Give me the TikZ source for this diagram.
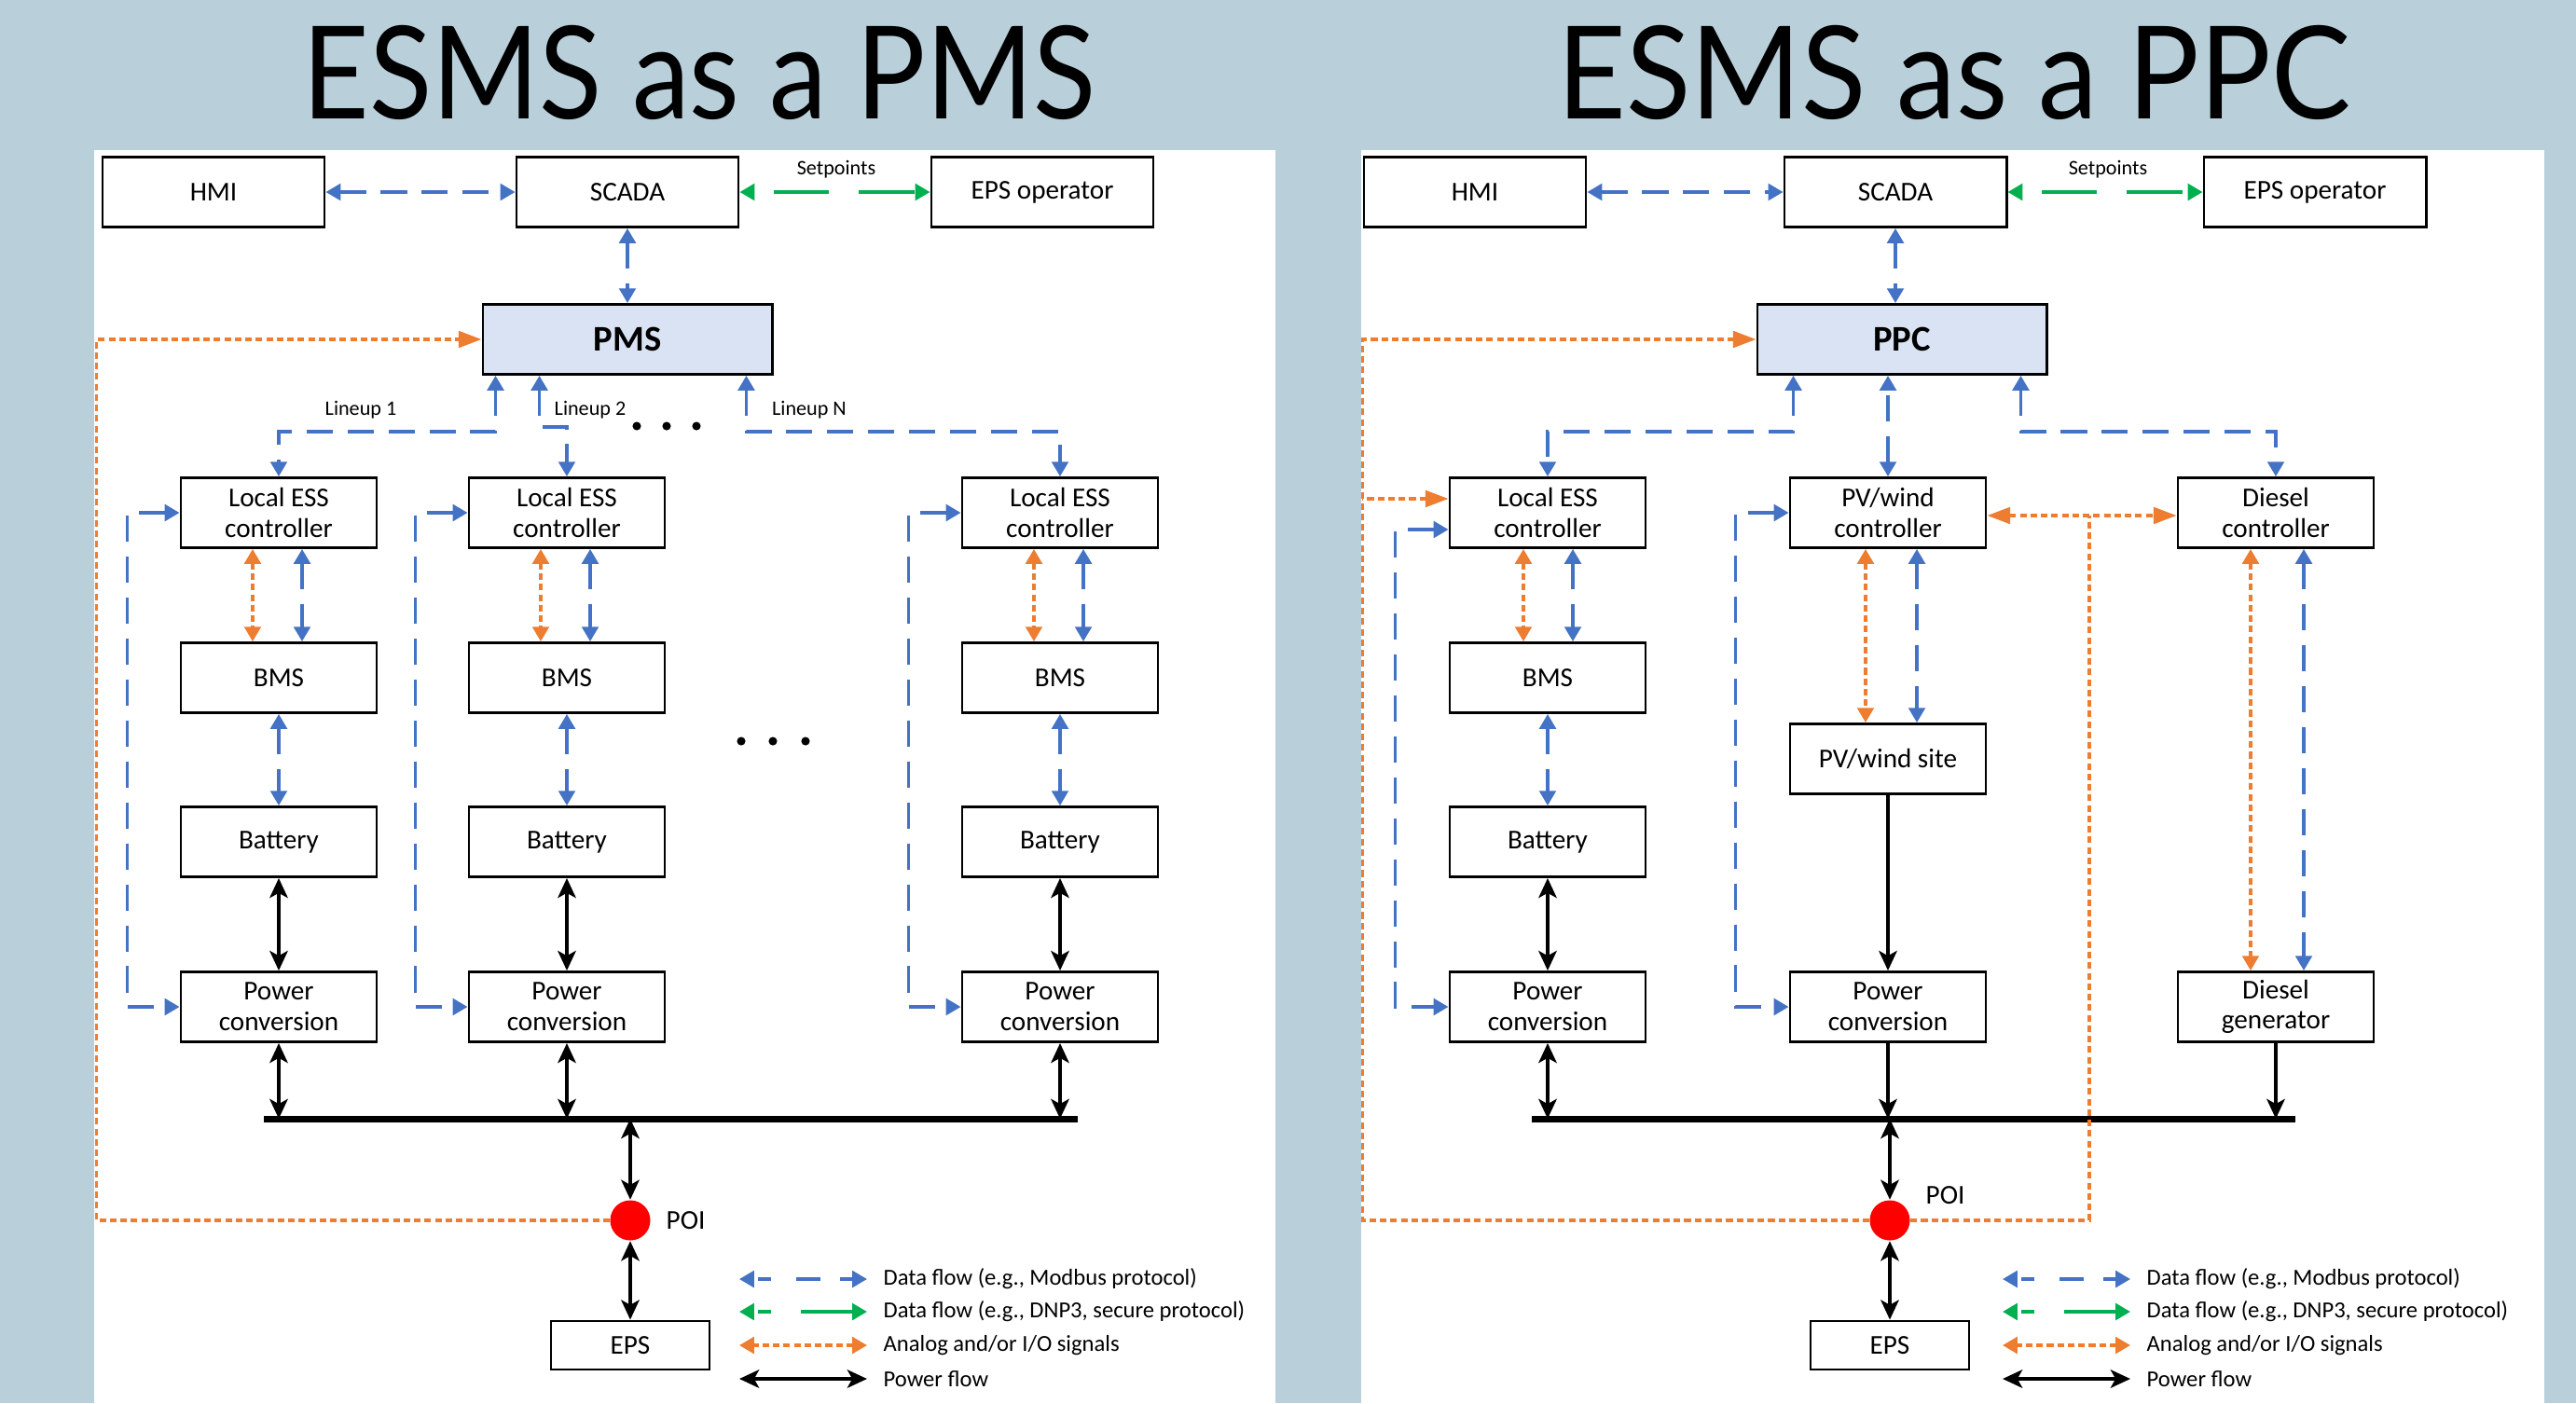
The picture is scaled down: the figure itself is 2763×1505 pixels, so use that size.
\documentclass[tikz,border=0pt]{standalone}
\usepackage{fontspec}
\setmainfont{Carlito}
\newfontfamily\titlefont{Lato}
\usetikzlibrary{arrows.meta}

\definecolor{dblue}{RGB}{68,114,196}
\definecolor{dgreen}{RGB}{0,176,80}
\definecolor{dorange}{RGB}{237,125,49}
\definecolor{ctrlfill}{RGB}{218,227,243}
\definecolor{slide}{RGB}{185,207,218}

\tikzset{
  tri/.tip={Triangle[length=4.5pt,width=5pt]},
  wtri/.tip={Triangle[length=7pt,width=5pt]},
  pwr/.tip={Stealth[length=6pt,width=5.5pt,inset=1.5pt]},
  box/.style={draw, line width=0.8pt, fill=white, minimum width=2.1cm, minimum height=0.75cm,
    inner sep=1pt, align=center, font=\fontsize{8.3}{9.3}\selectfont},
  wide/.style={box, minimum width=2.38cm},
  ctrl/.style={box, minimum width=3.1cm, fill=ctrlfill, font=\fontsize{11}{12}\selectfont\bfseries},
  data/.style={dblue, line width=1pt, dash pattern=on 8pt off 4.5pt, tri-tri},
  secure/.style={dgreen, line width=1pt, dash pattern=on 17pt off 9pt, dash phase=20pt, tri-tri},
  signal/.style={dorange, line width=0.95pt, dash pattern=on 2pt off 1.2pt},
  power/.style={line width=1.3pt, pwr-pwr},
  bus/.style={line width=2pt},
  small/.style={font=\fontsize{6.3}{7}\selectfont, inner sep=0pt},
  legend/.style={font=\fontsize{7}{8}\selectfont, anchor=west, inner sep=0pt},
  poi/.style={circle, fill=red, minimum size=0.43cm, inner sep=0pt},
}

\begin{document}
\begin{tikzpicture}[x=0.01cm, y=-0.01cm]
  \useasboundingbox (0,0) rectangle (2763,1505);
  \fill[slide] (0,0) rectangle (2763,1505);
  \fill[white] (101,161) rectangle (1368,1505);
  \fill[white] (1460,161) rectangle (2729,1505);

  % titles
  \node[anchor=base, inner sep=0pt] (titleL) at (750,127) {\resizebox{242pt}{28.5pt}{\titlefont ESMS as a PMS}};
  \node[anchor=base, inner sep=0pt] (titleR) at (2096,127) {\resizebox{242pt}{28.5pt}{\titlefont ESMS as a PPC}};

  % ---------------- left: ESMS as a PMS ----------------
  \node[wide] (hmiL) at (229,206) {HMI};
  \node[wide] (scadaL) at (673,206) {SCADA};
  \node[wide] (epsopL) at (1118,206) {EPS operator};
  \node[ctrl] (pmsL) at (673,364) {PMS};
  \draw[data] (hmiL) -- (scadaL);
  \draw[secure] (scadaL) -- (epsopL);
  \node[small] (setL) at (897,182) {Setpoints};
  \draw[data] (scadaL) -- (pmsL);

  \coordinate (busLa) at (283,1200);
  \coordinate (busLb) at (1156,1200);
  \draw[bus] (busLa) -- (busLb);

  \foreach \i/\x in {1/299, 2/608, 3/1137} {
    \node[box] (less\i) at (\x,550) {Local ESS\\controller};
    \node[box] (bms\i) at (\x,727) {BMS};
    \node[box] (bat\i) at (\x,903) {Battery};
    \node[box] (pc\i) at (\x,1080) {Power\\conversion};
    \draw[signal, tri-tri] ([xshift=-0.28cm]less\i.south) -- ([xshift=-0.28cm]bms\i.north);
    \draw[data] ([xshift=0.25cm]less\i.south) -- ([xshift=0.25cm]bms\i.north);
    \draw[data] (bms\i) -- (bat\i);
    \draw[power] (bat\i) -- (pc\i);
    \draw[power] (pc\i.south) -- (pc\i.south |- busLa);
    \draw[data] (less\i.west) -- ++(-56,0) |- (pc\i.west);
  }

  % lineups
  \draw[data] ([xshift=0.15cm]pmsL.south west) -- ++(0,60) -| (less1.north);
  \draw[data] ([xshift=0.62cm]pmsL.south west) -- ++(0,55) -| (less2.north);
  \draw[data] ([xshift=-0.29cm]pmsL.south east) -- ++(0,60) -| (less3.north);
  \node[small] (lineup1) at (387,440) {Lineup 1};
  \node[small] (lineup2) at (633,440) {Lineup 2};
  \node[small] (lineupN) at (868,440) {Lineup N};
  \foreach \d in {683,715,747} \fill (\d,457) circle (1.3pt);
  \foreach \d in {795,829,864} \fill (\d,795) circle (1.3pt);

  \node[poi] (poiL) at (676,1309) {};
  \node[font=\fontsize{8.3}{9.3}\selectfont, anchor=west, inner sep=0pt] (poiLlab) at (714,1309) {POI};
  \node[box, minimum width=1.7cm, minimum height=0.52cm] (epsL) at (676,1443) {EPS};
  \draw[power] (poiL.north |- busLa) -- (poiL.north);
  \draw[power] (poiL.south) -- (epsL.north);
  \draw[signal, -wtri] (poiL.west) -- ++(-550,0) |- (pmsL.west);

  % ---------------- right: ESMS as a PPC ----------------
  \node[wide] (hmiR) at (1582,206) {HMI};
  \node[wide] (scadaR) at (2033,206) {SCADA};
  \node[wide] (epsopR) at (2483,206) {EPS operator};
  \node[ctrl] (ppcR) at (2040,364) {PPC};
  \draw[data] (hmiR) -- (scadaR);
  \draw[secure] (scadaR) -- (epsopR);
  \node[small] (setR) at (2261,182) {Setpoints};
  \draw[data] (scadaR) -- (scadaR |- ppcR.north);

  \node[box] (lessR) at (1660,550) {Local ESS\\controller};
  \node[box] (bmsR) at (1660,727) {BMS};
  \node[box] (batR) at (1660,903) {Battery};
  \node[box] (pcR) at (1660,1080) {Power\\conversion};
  \node[box] (pvc) at (2025,550) {PV/wind\\controller};
  \node[box] (pvs) at (2025,814) {PV/wind site};
  \node[box] (pvpc) at (2025,1080) {Power\\conversion};
  \node[box] (dc) at (2441,550) {Diesel\\controller};
  \node[box] (dg) at (2441,1080) {Diesel\\generator};

  \draw[data] ([xshift=0.40cm]ppcR.south west) -- ++(0,60) -| (lessR.north);
  \draw[data] (pvc.north) -- (pvc.north |- ppcR.south);
  \draw[data] ([xshift=-0.29cm]ppcR.south east) -- ++(0,60) -| (dc.north);

  \draw[signal, tri-tri] ([xshift=-0.26cm]lessR.south) -- ([xshift=-0.26cm]bmsR.north);
  \draw[data] ([xshift=0.27cm]lessR.south) -- ([xshift=0.27cm]bmsR.north);
  \draw[data] (bmsR) -- (batR);
  \draw[power] (batR) -- (pcR);
  \draw[data] ([yshift=-0.18cm]lessR.west) -- ++(-57,0) |- (pcR.west);

  \draw[signal, tri-tri] ([xshift=-0.24cm]pvc.south) -- ([xshift=-0.24cm]pvs.north);
  \draw[data] ([xshift=0.31cm]pvc.south) -- ([xshift=0.31cm]pvs.north);
  \draw[line width=1.3pt, -pwr] (pvs) -- (pvpc);
  \draw[data] (pvc.west) -- ++(-57,0) |- (pvpc.west);

  \draw[signal, tri-tri] ([xshift=-0.27cm]dc.south) -- ([xshift=-0.27cm]dg.north);
  \draw[data] ([xshift=0.30cm]dc.south) -- ([xshift=0.30cm]dg.north);
  \draw[signal, wtri-wtri] ([yshift=-0.03cm]pvc.east) -- ([yshift=-0.03cm]dc.west);

  \coordinate (busRa) at (1643,1200);
  \coordinate (busRb) at (2462,1200);
  \draw[bus] (busRa) -- (busRb);
  \draw[power] (pcR.south) -- (pcR.south |- busRa);
  \draw[line width=1.3pt, -pwr] (pvpc.south) -- (pvpc.south |- busRa);
  \draw[line width=1.3pt, -pwr] (dg.south) -- (dg.south |- busRa);

  \node[poi] (poiR) at (2027,1309) {};
  \node[font=\fontsize{8.3}{9.3}\selectfont, anchor=west, inner sep=0pt] (poiRlab) at (2065,1282) {POI};
  \node[box, minimum width=1.7cm, minimum height=0.52cm] (epsR) at (2027,1443) {EPS};
  \draw[power] (poiR.north |- busRa) -- (poiR.north);
  \draw[power] (poiR.south) -- (epsR.north);
  \draw[signal, -wtri] (poiR.west) -- ++(-543,0) |- (ppcR.west);
  \draw[signal, wtri-] ([yshift=0.15cm]lessR.west) -- ++(-93,0);
  \coordinate (tap) at (2241,553);
  \draw[signal] (poiR.east) -| (tap);

  % legends
  \foreach \p/\x in {L/947, R/2302} {
    \node[legend] (lg\p1) at (\x,1372) {Data flow (e.g., Modbus protocol)};
    \node[legend] (lg\p2) at (\x,1407) {Data flow (e.g., DNP3, secure protocol)};
    \node[legend] (lg\p3) at (\x,1443) {Analog and/or I/O signals};
    \node[legend] (lg\p4) at (\x,1479) {Power flow};
    \draw[data, dash pattern=on 4pt off 6pt on 7.5pt off 7.5pt] ([xshift=-0.17cm]lg\p1.west) -- ++(-137,0);
    \draw[secure, dash pattern=on 16pt off 9pt on 4pt off 20pt, dash phase=0pt] ([xshift=-0.17cm]lg\p2.west) -- ++(-137,0);
    \draw[signal, tri-tri] ([xshift=-0.17cm]lg\p3.west) -- ++(-137,0);
    \draw[power] ([xshift=-0.17cm]lg\p4.west) -- ++(-137,0);
  }
\end{tikzpicture}
\end{document}
